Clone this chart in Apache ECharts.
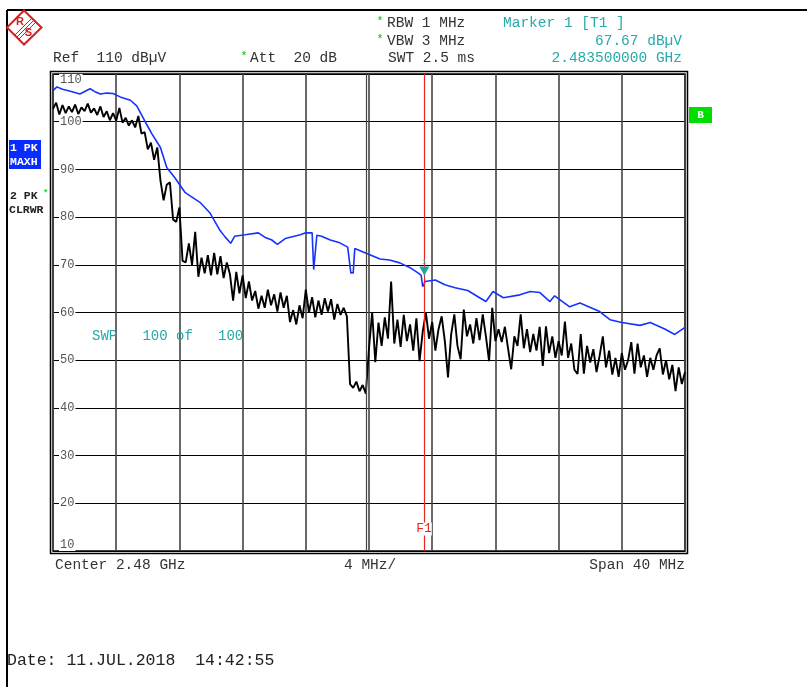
<!DOCTYPE html>
<html><head><meta charset="utf-8">
<script src="https://cdn.jsdelivr.net/npm/echarts@6/dist/echarts.min.js"></script>
<style>html,body{margin:0;padding:0;background:#fff}#c{width:807px;height:687px}</style>
</head><body><div id="c"></div>
<script>
// Frequency axis (MHz) and level axis (dBµV)
const freqStart = 2460, freqEnd = 2500, freqDiv = 4;
const levelMin = 10, levelMax = 110, levelDiv = 10;
const levelTicks = [10, 20, 30, 40, 50, 60, 70, 80, 90, 100, 110];

// Trace 2 (PK, CLRWR) - black, sampled every 0.2 MHz from 2460 MHz
const blackStep = 0.2;
const blackLevels = [
  102.7,104.0,101.5,103.5,101.8,103.2,102.0,103.6,101.6,103.0,102.2,103.8,101.9,102.8,101.4,103.2,101.0,102.2,100.3,101.8,100.2,
  102.9,99.8,100.8,99.2,100.3,98.8,101.2,97.5,97.8,94.2,95.6,92.0,94.6,87.7,83.5,86.8,87.3,79.5,79.0,82.0,
  70.8,70.5,74.5,70.0,76.9,67.5,71.5,68.2,72.0,67.8,72.5,68.0,71.8,67.2,70.5,68.0,62.5,68.5,64.0,67.8,
  63.0,66.5,62.5,64.5,60.8,63.5,61.0,64.8,61.5,63.8,60.2,64.2,61.0,63.5,58.0,60.5,57.5,61.5,58.8,64.8,
  60.0,63.2,59.0,62.5,59.5,63.0,60.2,62.8,58.5,61.8,59.5,61.0,59.2,45.0,44.2,45.5,43.5,44.8,43.0,52.5,
  60.0,49.6,57.9,53.0,59.0,54.5,66.5,53.5,58.5,52.8,59.5,54.0,57.5,52.0,58.8,49.8,56.0,60.0,54.5,58.0,
  52.0,56.5,59.2,54.0,46.4,55.4,59.6,53.0,50.2,60.6,55.0,57.5,53.5,58.8,54.2,59.6,55.0,49.8,61.0,54.0,
  56.5,53.8,57.0,52.5,48.1,55.0,53.0,59.6,52.5,56.5,51.7,55.5,52.0,57.0,48.8,57.1,51.5,55.0,50.5,54.0,
  51.0,58.1,50.5,53.5,48.0,47.1,55.5,47.2,53.0,49.5,52.3,47.5,51.0,55.0,48.5,52.0,47.0,50.5,46.5,51.5,
  48.0,50.0,53.8,47.2,53.5,48.5,51.0,46.5,50.5,48.0,51.0,52.5,47.0,50.0,46.0,49.0,43.5,48.5,45.0,47.5
];

// Trace 1 (PK, MAXH) - blue
const blueFreqs = [
  2460.0,2460.25,2460.6,2461.1,2461.7,2462.1,2462.35,2462.65,2463.0,2463.4,2463.8,2464.25,2464.9,2465.3,2465.8,
  2466.25,2466.8,2467.2,2467.7,2468.35,2469.3,2469.95,2470.55,2470.9,2471.25,2471.5,2472.15,2473.0,2473.4,2473.85,
  2474.2,2474.7,2475.65,2476.0,2476.4,2476.5,2476.6,2476.7,2477.0,2477.55,2478.15,2478.65,2478.85,2479.0,2479.1,
  2479.55,2480.05,2480.7,2481.3,2481.95,2482.6,2483.1,2483.3,2483.4,2483.55,2483.65,2484.2,2484.8,2485.45,2486.25,
  2487.0,2487.4,2487.85,2488.5,2489.55,2490.2,2490.8,2491.45,2491.75,2492.7,2493.35,2494.6,2495.25,2496.0,2497.15,
  2497.8,2498.75,2499.35,2500.0
];
const blueLevels = [
  106.5,107.3,106.8,106.4,105.8,106.5,106.9,106.3,105.8,106.0,105.9,105.2,104.5,103.3,100.2,
  97.5,94.6,90.4,88.3,85.2,83.1,80.8,77.3,75.8,74.5,76.0,76.3,76.7,75.8,75.2,
  74.3,75.5,76.3,76.7,76.7,69.0,69.0,76.2,76.0,75.2,74.6,73.7,68.3,68.3,73.4,
  72.8,72.1,71.2,71.0,70.4,69.4,68.3,67.8,65.4,66.5,66.9,66.8,65.8,65.2,64.6,
  63.1,62.3,64.4,63.1,63.7,64.4,64.2,62.3,63.5,61.2,62.0,60.2,58.5,57.9,57.3,
  57.9,56.5,55.4,56.9
];

// Marker 1
const markerFreq = 2483.5, markerLevel = 67.67;

const MONO = '"Liberation Mono", "DejaVu Sans Mono", monospace';
const TEAL = '#27a9a9';
function T(text, x, y, o) {
  return { type: 'text', x: x, y: y, silent: true, z: 10,
    style: Object.assign({ text: text, font: '14.5px ' + MONO, fill: '#333', verticalAlign: 'middle', align: 'left' }, o || {}) };
}

const chart = echarts.init(document.getElementById('c'), null, { renderer: 'canvas' });
const option = {
  animation: false,
  backgroundColor: '#fff',
  grid: { left: 53, top: 74, width: 632, height: 477, show: true, borderColor: '#000', borderWidth: 1.5, backgroundColor: 'transparent' },
  xAxis: {
    type: 'value', min: freqStart, max: freqEnd, interval: freqDiv,
    axisLabel: { show: false }, axisTick: { show: false }, axisLine: { show: false },
    splitLine: { show: true, lineStyle: { color: '#444', width: 1.6 } }
  },
  yAxis: {
    type: 'value', min: levelMin, max: levelMax, interval: levelDiv,
    axisTick: { show: false }, axisLine: { show: false },
    splitLine: { show: true, lineStyle: { color: '#000', width: 1.2 } },
    axisLabel: {
      inside: true, margin: 6, color: '#555', fontFamily: MONO, fontSize: 12,
      backgroundColor: '#fff', padding: [0, 1, 0, 1],
      verticalAlignMaxLabel: 'top', verticalAlignMinLabel: 'bottom',
      formatter: function (v) { return levelTicks.indexOf(v) >= 0 ? String(v) : ''; }
    }
  },
  series: [
    {
      name: 'Trace 2', type: 'line', symbol: 'none', z: 3,
      lineStyle: { color: '#000', width: 1.9 },
      data: blackLevels.map(function (v, i) { return [freqStart + i * blackStep, v]; })
    },
    {
      name: 'Trace 1', type: 'line', symbol: 'none', z: 4,
      lineStyle: { color: '#1433ff', width: 1.6 },
      data: blueFreqs.map(function (f, i) { return [f, blueLevels[i]]; }),
      markLine: {
        silent: true, symbol: 'none', label: { show: false },
        lineStyle: { color: '#e8261e', width: 1.2, type: 'solid' },
        data: [{ xAxis: markerFreq }]
      },
      markPoint: {
        silent: true,
        symbol: 'triangle', symbolRotate: 180, symbolSize: [10, 9], symbolOffset: [0, -5],
        itemStyle: { color: '#1fa3a3' },
        label: { show: true, formatter: '1', position: 'top', distance: 1, color: TEAL, fontSize: 7, fontFamily: MONO },
        data: [{ coord: [markerFreq, markerLevel] }]
      }
    }
  ],
  graphic: [
    // outer page frame
    { type: 'line', silent: true, shape: { x1: 7, y1: 10, x2: 807, y2: 10 }, style: { stroke: '#000', lineWidth: 2 } },
    { type: 'line', silent: true, shape: { x1: 7, y1: 10, x2: 7, y2: 687 }, style: { stroke: '#000', lineWidth: 2 } },
    // double frame around diagram
    { type: 'rect', silent: true, z: 5, shape: { x: 50.5, y: 71.5, width: 637, height: 482 }, style: { fill: 'none', stroke: '#000', lineWidth: 1.5 } },
    { type: 'line', silent: true, z: 5, shape: { x1: 366.5, y1: 74, x2: 366.5, y2: 551 }, style: { stroke: '#444', lineWidth: 1.2 } },
    // logo
    { type: 'polygon', silent: true, shape: { points: [[24, 10.5], [41.5, 27.5], [24, 44.5], [7, 27.5]] }, style: { fill: '#fff', stroke: '#d42020', lineWidth: 2 } },
    { type: 'line', silent: true, shape: { x1: 15, y1: 35, x2: 32, y2: 18 }, style: { stroke: '#d42020', lineWidth: 1 } },
    { type: 'line', silent: true, shape: { x1: 17, y1: 37, x2: 34, y2: 20 }, style: { stroke: '#d42020', lineWidth: 1 } },
    { type: 'line', silent: true, shape: { x1: 19, y1: 39, x2: 36, y2: 22 }, style: { stroke: '#d42020', lineWidth: 1 } },
    T('R', 20, 22, { font: 'bold 11px "Liberation Sans", sans-serif', fill: '#d42020', align: 'center' }),
    T('S', 28.5, 33, { font: 'bold 11px "Liberation Sans", sans-serif', fill: '#d42020', align: 'center' }),
    // header texts
    T('Ref  110 dBµV', 53, 58),
    T('*', 241, 56, { font: 'bold 10px ' + MONO, fill: '#2bd42b' }),
    T('Att  20 dB', 250, 58),
    T('*', 377, 21, { font: 'bold 10px ' + MONO, fill: '#2bd42b' }),
    T('RBW 1 MHz', 387, 23),
    T('*', 377, 39, { font: 'bold 10px ' + MONO, fill: '#2bd42b' }),
    T('VBW 3 MHz', 387, 41),
    T('SWT 2.5 ms', 388, 58),
    T('Marker 1 [T1 ]', 503, 23, { fill: TEAL }),
    T('67.67 dBµV', 682, 41, { fill: TEAL, align: 'right' }),
    T('2.483500000 GHz', 682, 58, { fill: TEAL, align: 'right' }),
    // trace labels on the left
    { type: 'rect', silent: true, shape: { x: 9, y: 140, width: 32, height: 29 }, style: { fill: '#0a2bff' } },
    T('1 PK', 10, 148, { font: 'bold 11.5px ' + MONO, fill: '#fff' }),
    T('MAXH', 10, 162, { font: 'bold 11.5px ' + MONO, fill: '#fff' }),
    T('2 PK', 10, 196, { font: 'bold 11.5px ' + MONO, fill: '#222' }),
    T('*', 43, 194, { font: 'bold 9px ' + MONO, fill: '#2bd42b' }),
    T('CLRWR', 9, 210, { font: 'bold 11.5px ' + MONO, fill: '#222' }),
    // B box
    { type: 'rect', silent: true, shape: { x: 689, y: 107, width: 23, height: 16 }, style: { fill: '#00dd00' } },
    T('B', 700.5, 115.5, { font: 'bold 11px ' + MONO, fill: '#fff', align: 'center' }),
    // sweep count
    T('SWP   100 of   100', 92, 336, { fill: TEAL, font: '14px ' + MONO }),
    // F1 label
    T('F1', 424, 529, { fill: '#e8261e', font: '13px ' + MONO, align: 'center', backgroundColor: '#fff' }),
    // bottom axis texts
    T('Center 2.48 GHz', 55, 565),
    T('4 MHz/', 344, 565),
    T('Span 40 MHz', 685, 565, { align: 'right' }),
    T('Date: 11.JUL.2018  14:42:55', 7, 661, { font: '16.5px ' + MONO, fill: '#222' })
  ]
};
chart.setOption(option);
</script>
</body></html>
